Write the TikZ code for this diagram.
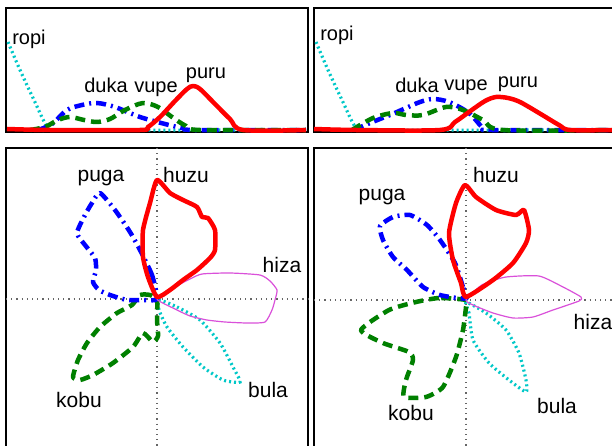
\documentclass[tikz,border=0pt]{standalone}
\usepackage{fontspec}
\setmainfont{Liberation Sans}
\definecolor{rosecol}{RGB}{218,80,218}
\definecolor{tealcol}{RGB}{0,200,200}
\definecolor{leafcol}{RGB}{0,128,0}
\tikzset{
  panel/.style={draw=black, line width=1.8pt},
  axis/.style={draw=black!60, line width=1.2pt, dash pattern=on 1.2pt off 4pt},
  redcurve/.style={draw=red, line width=4.5pt, line join=round},
  bluecurve/.style={draw=blue, line width=4.5pt, line join=round, dash pattern=on 10pt off 5pt on 2pt off 5pt},
  greencurve/.style={draw=leafcol, line width=4.5pt, line join=round, dash pattern=on 10pt off 6pt},
  cyancurve/.style={draw=tealcol, line width=3.2pt, dash pattern=on 2pt off 3pt},
  pinkcurve/.style={draw=rosecol, line width=1.2pt, line join=round},
}
\begin{document}
\begin{tikzpicture}[x=1pt,y=-1pt]

      \useasboundingbox (0,0) rectangle (612,446);
      \clip (0,0) rectangle (612,446);
      \fill[white] (0,0) rectangle (612,446);

      \draw[panel] (6,8) rectangle (308,132);
      \draw[panel] (314,8) rectangle (640,132);
      \draw[panel] (6,148) rectangle (308,470);
      \draw[panel] (314,148) rectangle (640,470);

      \draw[axis] (6,299) -- (308,299);
      \draw[axis] (157,148) -- (157,446);
      \draw[axis] (314,300) -- (612,300);
      \draw[axis] (466,148) -- (466,446);

      % top panels
      \draw[cyancurve] plot[smooth] coordinates {(8,42) (20,70) (34,100) (48,128) (60,130) (306,130)};
      \draw[bluecurve] plot[smooth] coordinates {(38,130) (52,124) (67,110) (82,105) (97,103) (115,107) (140,117) (165,124) (182,128) (195,130) (306,130)};
      \draw[greencurve] plot[smooth] coordinates {(30,130) (45,127) (58,120) (70,117) (84,120) (97,122) (110,119) (125,110) (143,103) (158,107) (172,117) (186,126) (200,130) (306,130)};
      \draw[redcurve] plot[smooth] coordinates {(7,129) (50,130) (140,130) (148,127) (160,117) (175,101) (187,89) (193,86) (200,89) (215,104) (230,119) (243,130) (306,130)};

      \draw[cyancurve] plot[smooth] coordinates {(316,42) (328,70) (342,100) (356,128) (368,130) (612,130)};
      \draw[bluecurve] plot[smooth] coordinates {(354,130) (370,123) (390,115) (406,108) (420,102) (433,99) (449,102) (469,113) (483,128) (492,130) (612,130)};
      \draw[greencurve] plot[smooth] coordinates {(352,130) (373,118) (393,113) (406,115) (423,115) (446,107) (463,110) (483,120) (503,130) (612,130)};
      \draw[redcurve] plot[smooth] coordinates {(314,129) (356,130) (440,130) (455,122) (469,112) (485,101) (496,97) (508,98) (520,102) (539,113) (559,125) (570,130) (612,130)};

      % bottom panels
      \begin{scope}[tension=0.35]
        \draw[cyancurve] plot[smooth cycle] coordinates {(159,300) (177,307) (200,320) (220,343) (233,367) (240,382) (223,380) (203,367) (183,347) (167,327) (159,310)};
        \draw[greencurve] plot[smooth cycle] coordinates {(157,300) (150,295) (140,295) (132,305) (117,313) (100,327) (87,343) (78,360) (73,377) (80,380) (93,375) (113,363) (133,347) (143,333) (153,342) (158,336) (157,320)};
        \draw[bluecurve] plot[smooth cycle] coordinates {(157,299) (152,275) (140,250) (130,232) (115,210) (100,193) (92,203) (85,215) (77,233) (85,245) (95,258) (96,270) (93,282) (99,290) (110,295) (127,300) (142,300)};
        \draw[pinkcurve] plot[smooth cycle] coordinates {(157,299) (173,288) (190,279) (202,274) (230,273) (260,275) (270,281) (277,290) (275,300) (272,310) (265,322) (247,323) (225,322) (207,320) (190,316) (175,309)};
        \draw[redcurve] plot[smooth cycle] coordinates {(157,297) (148,277) (143,257) (143,230) (150,203) (157,180) (170,193) (183,200) (197,207) (202,217) (208,218) (215,230) (215,250) (210,258) (197,270) (183,280) (170,290)};

        \draw[cyancurve] plot[smooth cycle] coordinates {(466,302) (486,313) (506,330) (519,353) (526,380) (526,392) (509,380) (489,363) (473,340) (469,313)};
        \draw[greencurve] plot[smooth cycle] coordinates {(466,300) (439,298) (416,302) (389,310) (361,330) (383,343) (409,352) (413,360) (406,380) (404,397) (426,397) (443,387) (456,357) (463,330) (466,307)};
        \draw[bluecurve] plot[smooth cycle] coordinates {(467,298) (463,287) (455,263) (440,240) (427,225) (410,215) (393,217) (380,226) (383,240) (393,257) (407,270) (423,287) (440,295) (457,298)};
        \draw[pinkcurve] plot[smooth cycle] coordinates {(466,300) (479,287) (486,283) (506,277) (539,276) (563,287) (581,297) (579,301) (553,310) (533,317) (513,318) (493,313) (473,305)};
        \draw[redcurve] plot[smooth cycle] coordinates {(466,297) (461,283) (453,260) (449,233) (456,203) (465,185) (476,197) (496,210) (516,215) (524,210) (529,230) (526,243) (513,263) (493,280)};
      \end{scope}

      \begin{scope}[every node/.style={inner sep=0pt, font=\fontsize{20}{24}\selectfont}]
        \node (ropiL) at (29,39)  {ropi};
        \node (dukaL) at (106,85) {duka};
        \node (vupeL) at (156,89) {vupe};
        \node (puruL) at (206,75) {puru};
        \node (ropiR) at (337,35) {ropi};
        \node (dukaR) at (417,85) {duka};
        \node (vupeR) at (466,87) {vupe};
        \node (puruR) at (518,84) {puru};
      \end{scope}

      \begin{scope}[every node/.style={inner sep=0pt, font=\fontsize{21}{25}\selectfont}]
        \node (huzuL) at (186,175) {huzu};
        \node (pugaL) at (101,178) {puga};
        \node (hizaL) at (282,265) {hiza};
        \node (bulaL) at (268,390) {bula};
        \node (kobuL) at (79,400)  {kobu};
        \node (huzuR) at (496,175) {huzu};
        \node (pugaR) at (382,197) {puga};
        \node (hizaR) at (593,322) {hiza};
        \node (bulaR) at (557,406) {bula};
        \node (kobuR) at (411,413) {kobu};
      \end{scope}

    \end{tikzpicture}
\end{document}
